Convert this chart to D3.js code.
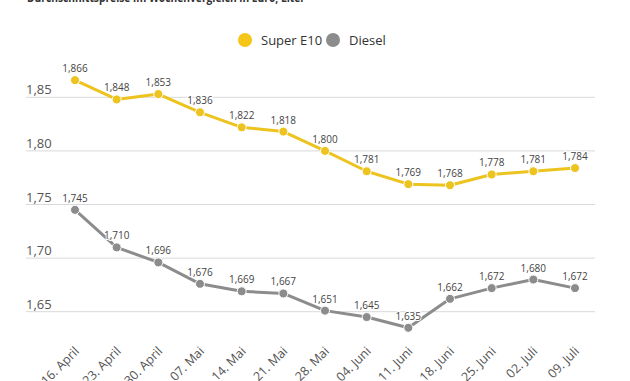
<!DOCTYPE html>
<html><head><meta charset="utf-8">
<script src="https://cdn.jsdelivr.net/npm/d3@7"></script>
<style>
html,body{margin:0;padding:0;background:#fff;overflow:hidden}
svg{display:block;font-family:"Open Sans","Noto Sans",sans-serif}
</style></head>
<body>
<svg id="chart" width="630" height="381"></svg>
<script>
const dates = ["16. April","23. April","30. April","07. Mai","14. Mai","21. Mai","28. Mai","04. Juni","11. Juni","18. Juni","25. Juni","02. Juli","09. Juli"];
const superE10 = [1.866,1.848,1.853,1.836,1.822,1.818,1.800,1.781,1.769,1.768,1.778,1.781,1.784];
const diesel = [1.745,1.710,1.696,1.676,1.669,1.667,1.651,1.645,1.635,1.662,1.672,1.680,1.672];
const yTicks = [1.65,1.70,1.75,1.80,1.85];
const seriesNames = ["Super E10","Diesel"];
const colors = ["#ecc31f","#8c8c8c"];
const legendColors = ["#f5c518","#8c8c8c"];
const subtitle = "Durchschnittspreise im Wochenvergleich in Euro, Liter";

const svg = d3.select("#chart");
const x = d3.scalePoint().domain(dates).range([75,575]);
const y = d3.scaleLinear().domain([1.65,1.85]).range([311.7,97.3]);
const fmt = v => d3.format(".3f")(v).replace(".", ",");
const fmt2 = v => d3.format(".2f")(v).replace(".", ",");

// cut-off subtitle
svg.append("text").attr("x",27).attr("y",1.5).attr("font-size",13).attr("font-weight","bold")
  .attr("fill","#333").attr("textLength",278).attr("lengthAdjust","spacingAndGlyphs").text(subtitle);

// legend
const leg = svg.append("g");
const legX = [245,333];
seriesNames.forEach((n,i)=>{
  leg.append("circle").attr("cx",legX[i]).attr("cy",40).attr("r",7).attr("fill",legendColors[i]);
  leg.append("text").attr("x",legX[i]+16).attr("y",45).attr("font-size",13).attr("fill","#333").text(n);
});

// grid + y labels
const gy = svg.append("g");
gy.selectAll("line").data(yTicks).join("line")
  .attr("x1",26).attr("x2",595).attr("y1",d=>y(d)).attr("y2",d=>y(d))
  .attr("stroke","#d9d9d9").attr("stroke-width",1);
gy.selectAll("text").data(yTicks).join("text")
  .attr("x",26).attr("y",d=>y(d)-3).attr("font-size",13).attr("fill","#555").text(fmt2);

// x labels
svg.append("g").selectAll("text").data(dates).join("text")
  .attr("transform",d=>`translate(${x(d)+5},352) rotate(-45)`)
  .attr("text-anchor","end").attr("font-size",12.5).attr("fill","#555").text(d=>d);

// series
const line = d3.line().x((d,i)=>x(dates[i])).y(d=>y(d));
[superE10,diesel].forEach((vals,s)=>{
  const g = svg.append("g");
  g.append("path").datum(vals).attr("d",line).attr("fill","none")
    .attr("stroke",colors[s]).attr("stroke-width",3).attr("stroke-linejoin","round");
  g.selectAll("circle").data(vals).join("circle")
    .attr("cx",(d,i)=>x(dates[i])).attr("cy",d=>y(d)).attr("r",4.5)
    .attr("fill",colors[s]).attr("stroke","#fff").attr("stroke-width",1);
  g.selectAll("text").data(vals).join("text")
    .attr("x",(d,i)=>x(dates[i])).attr("y",d=>y(d)-8)
    .attr("text-anchor","middle").attr("font-size",10).attr("fill","#444")
    .attr("stroke","#fff").attr("stroke-width",2).attr("paint-order","stroke").text(fmt);
});
</script>
</body></html>
